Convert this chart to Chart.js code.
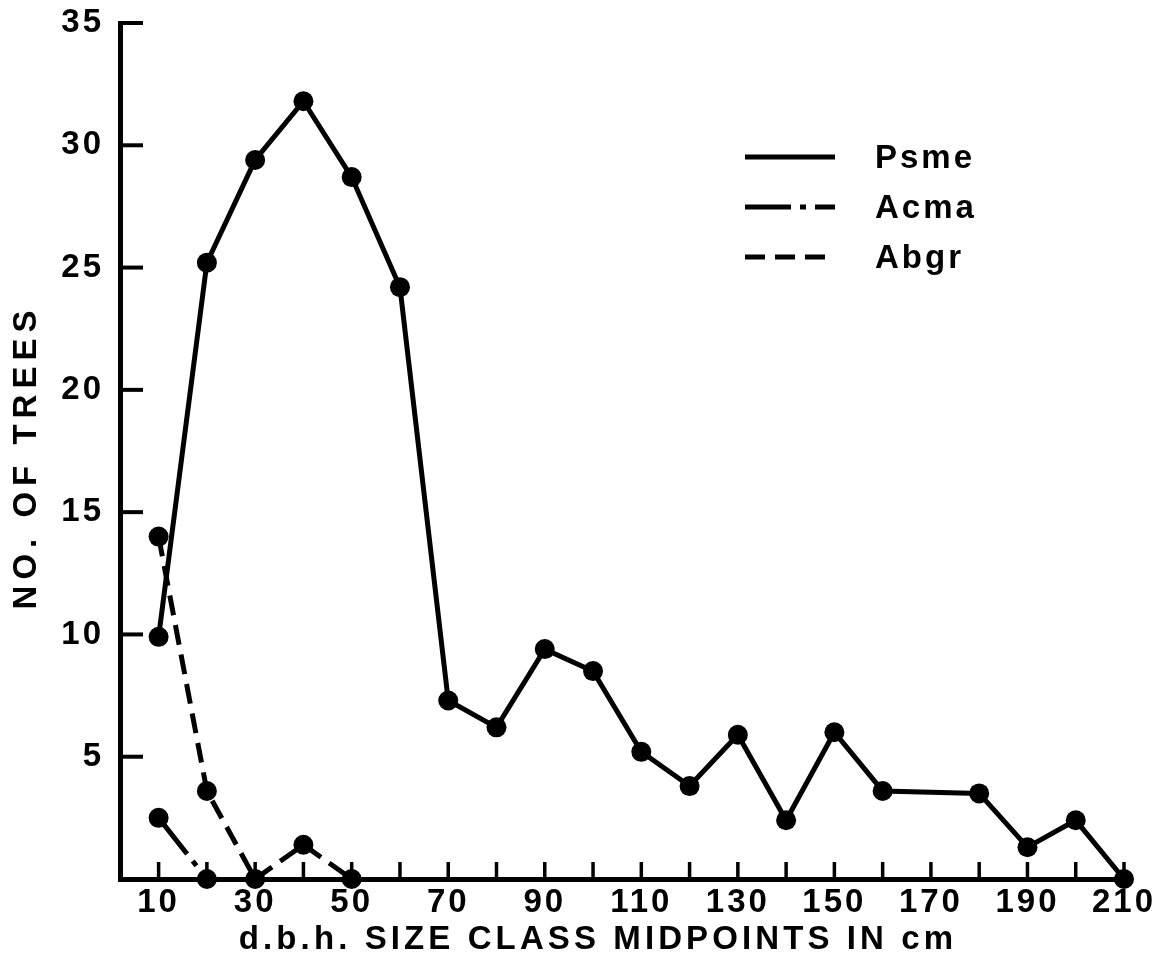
<!DOCTYPE html>
<html>
<head>
<meta charset="utf-8">
<title>Tree size-class distribution</title>
<script src="https://cdn.jsdelivr.net/npm/chart.js@4/dist/chart.umd.min.js"></script>
<style>
  html, body { margin: 0; padding: 0; background: #ffffff; }
  canvas { display: block; }
</style>
</head>
<body>
<canvas id="chart" width="1166" height="975"></canvas>
<script>
// d.b.h. size classes (cm) carrying a tick mark, and the ones that get a number
const sizeTicks = [10, 20, 30, 40, 50, 60, 70, 80, 90, 100, 110, 120, 130, 140, 150, 160, 170, 180, 190, 200, 210];
const numberedTicks = [10, 30, 50, 70, 90, 110, 130, 150, 170, 190, 210];
const countTicks = [5, 10, 15, 20, 25, 30, 35];

// Psme (Douglas-fir)
const psmeClasses = [10, 20, 30, 40, 50, 60, 70, 80, 90, 100, 110, 120, 130, 140, 150, 160, 180, 190, 200, 210];
const psmeTrees   = [9.9, 25.2, 29.4, 31.8, 28.7, 24.2, 7.3, 6.2, 9.4, 8.5, 5.2, 3.8, 5.9, 2.4, 6.0, 3.6, 3.5, 1.3, 2.4, 0];

// Acma (bigleaf maple)
const acmaClasses = [10, 20];
const acmaTrees   = [2.5, 0];

// Abgr (grand fir)
const abgrClasses = [10, 20, 30, 40, 50];
const abgrTrees   = [14.0, 3.6, 0, 1.4, 0];

const seriesNames = ['Psme', 'Acma', 'Abgr'];
const xTitle = 'd.b.h. SIZE CLASS MIDPOINTS IN cm';
const yTitle = 'NO. OF TREES';

const FONT = "'Liberation Sans', 'DejaVu Sans', sans-serif";
const FONT_SIZE = 33;
const INK = '#000000';

function pairs(xs, ys) {
  return xs.map((x, i) => ({ x: x, y: ys[i] }));
}

function lineSet(label, xs, ys, dash) {
  return {
    label: label,
    data: pairs(xs, ys),
    borderColor: INK,
    backgroundColor: INK,
    borderWidth: 5,
    borderDash: dash,
    pointRadius: 10,
    pointHoverRadius: 10,
    pointBackgroundColor: INK,
    pointBorderWidth: 0,
    tension: 0,
    clip: false
  };
}

// Inward tick marks, axis titles and the key in the upper right
const paperPlugin = {
  id: 'paper',
  beforeDraw(chart) {
    chart.ctx.letterSpacing = '3px';
  },
  afterDraw(chart) {
    const ctx = chart.ctx;
    const area = chart.chartArea;
    const xs = chart.scales.x;
    const ys = chart.scales.y;
    ctx.save();
    ctx.strokeStyle = INK;
    ctx.lineCap = 'butt';

    // x ticks point up into the plot
    ctx.lineWidth = 3.5;
    sizeTicks.forEach(v => {
      const px = xs.getPixelForValue(v);
      ctx.beginPath();
      ctx.moveTo(px, area.bottom);
      ctx.lineTo(px, area.bottom - 17);
      ctx.stroke();
    });
    // y ticks point right into the plot
    ctx.lineWidth = 4;
    countTicks.forEach(v => {
      const py = ys.getPixelForValue(v);
      ctx.beginPath();
      ctx.moveTo(area.left, py);
      ctx.lineTo(area.left + 23, py);
      ctx.stroke();
    });

    // axis titles
    ctx.fillStyle = INK;
    ctx.font = 'bold ' + FONT_SIZE + 'px ' + FONT;
    ctx.textAlign = 'center';
    ctx.textBaseline = 'middle';
    ctx.letterSpacing = '4.1px';
    ctx.fillText(xTitle, area.left + 478, area.bottom + 61);
    ctx.save();
    ctx.translate(27, (area.top + area.bottom) / 2 + 6);
    ctx.rotate(-Math.PI / 2);
    ctx.letterSpacing = '6px';
    ctx.fillText(yTitle, 0, 0);
    ctx.restore();

    // key
    const keyLeft = area.left + 625;
    const keyRight = area.left + 715;
    const keyTop = area.top + 134;
    const rowGap = 50;
    ctx.letterSpacing = '3px';
    ctx.textAlign = 'left';
    chart.data.datasets.forEach((ds, i) => {
      const y = keyTop + i * rowGap;
      ctx.lineWidth = 5;
      ctx.setLineDash(ds.borderDash || []);
      ctx.beginPath();
      ctx.moveTo(keyLeft, y);
      ctx.lineTo(keyRight, y);
      ctx.stroke();
      ctx.setLineDash([]);
      ctx.fillText(ds.label, area.left + 755, y + 2);
    });
    ctx.restore();
  }
};

const chart = new Chart(document.getElementById('chart'), {
  type: 'line',
  data: {
    datasets: [
      lineSet(seriesNames[0], psmeClasses, psmeTrees, []),
      lineSet(seriesNames[1], acmaClasses, acmaTrees, [46, 9, 6, 9]),
      lineSet(seriesNames[2], abgrClasses, abgrTrees, [20, 10])
    ]
  },
  options: {
    responsive: false,
    animation: false,
    devicePixelRatio: 1,
    layout: { padding: { top: 23, right: 42, left: 0, bottom: 0 } },
    plugins: {
      legend: { display: false },
      tooltip: { enabled: false },
      title: { display: false }
    },
    scales: {
      x: {
        type: 'linear',
        min: 2,
        max: 210,
        afterBuildTicks(scale) {
          scale.ticks = sizeTicks.map(v => ({ value: v }));
        },
        afterFit(scale) { scale.height = 96; },
        grid: { display: false },
        border: { display: true, color: INK, width: 5 },
        ticks: {
          autoSkip: false,
          maxRotation: 0,
          padding: -4,
          color: INK,
          font: { family: FONT, size: FONT_SIZE, weight: 'bold' },
          callback: v => numberedTicks.includes(v) ? String(v) : ''
        }
      },
      y: {
        type: 'linear',
        min: 0,
        max: 35,
        afterBuildTicks(scale) {
          scale.ticks = countTicks.map(v => ({ value: v }));
        },
        afterFit(scale) { scale.width = 120; scale.paddingTop = 0; },
        grid: { display: false },
        border: { display: true, color: INK, width: 5 },
        ticks: {
          padding: 8,
          color: INK,
          font: { family: FONT, size: FONT_SIZE, weight: 'bold', lineHeight: 1.0 },
          callback: v => String(v)
        }
      }
    }
  },
  plugins: [paperPlugin]
});
</script>
</body>
</html>
